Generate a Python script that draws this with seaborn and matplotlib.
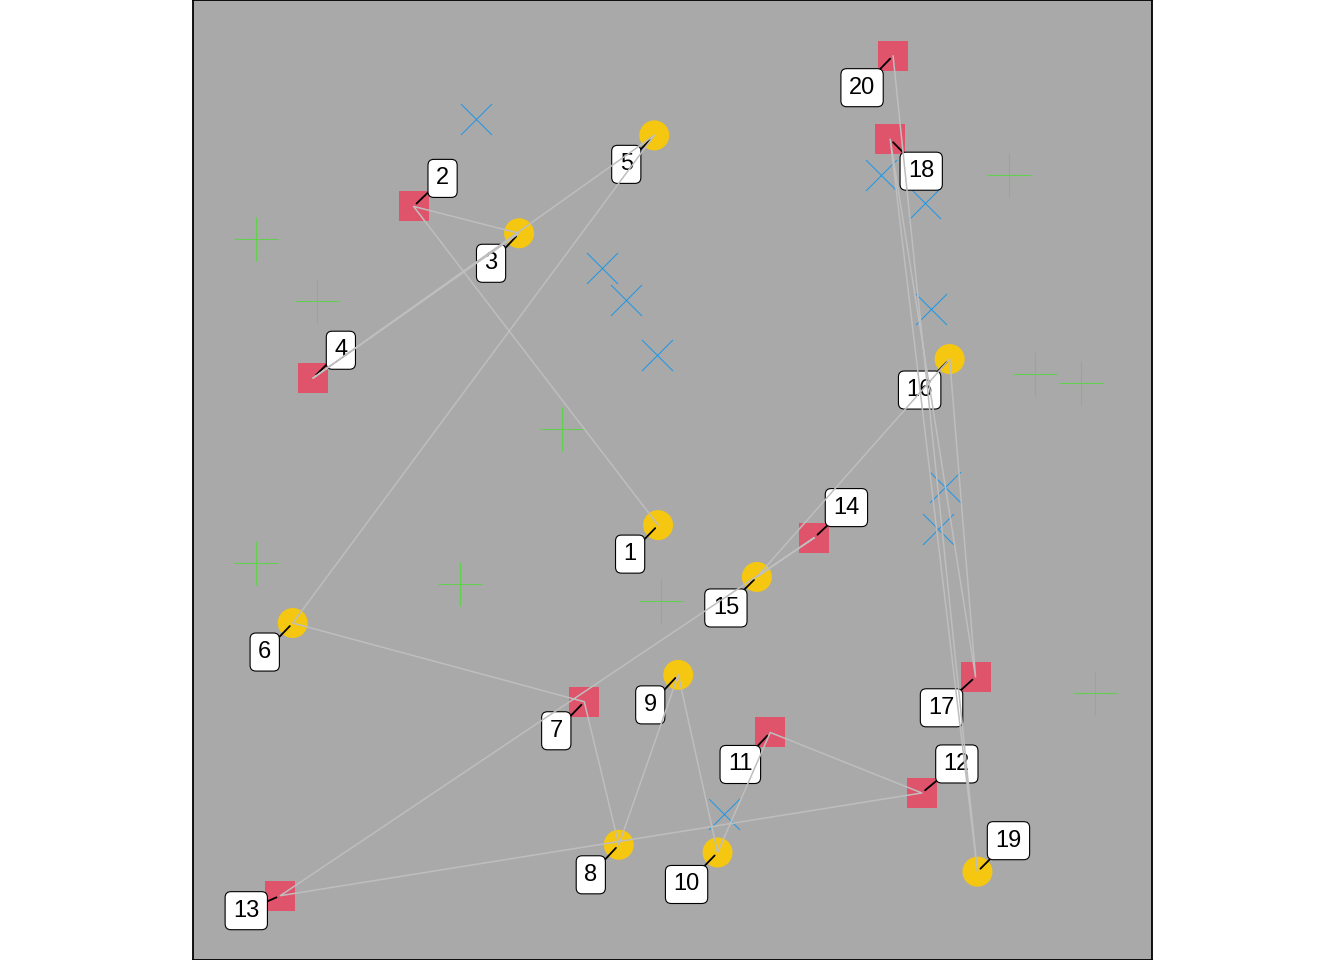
import numpy as np
import pandas as pd
import matplotlib
matplotlib.use("Agg")
import matplotlib.pyplot as plt
import seaborn as sns

# numbered points, visited in this order by the path
point_x = [0.485, 0.230, 0.340, 0.125, 0.481, 0.104, 0.408, 0.444, 0.506, 0.547,
           0.602, 0.760, 0.091, 0.648, 0.588, 0.789, 0.816, 0.727, 0.818, 0.730]
point_y = [0.453, 0.785, 0.757, 0.606, 0.859, 0.351, 0.269, 0.120, 0.297, 0.112,
           0.237, 0.174, 0.067, 0.440, 0.399, 0.626, 0.295, 0.855, 0.092, 0.942]
point_shape = ["circle", "square", "circle", "square", "circle", "circle", "square",
               "circle", "circle", "circle", "square", "square", "square", "square",
               "circle", "circle", "square", "square", "circle", "square"]
point_label = [str(i) for i in range(1, 21)]

# background crosses (blue) and plus signs (green)
cross_x = [0.295, 0.427, 0.451, 0.484, 0.717, 0.763, 0.770, 0.784, 0.777, 0.554]
cross_y = [0.876, 0.721, 0.687, 0.630, 0.818, 0.789, 0.678, 0.493, 0.449, 0.152]
plus_x = [0.066, 0.129, 0.385, 0.851, 0.878, 0.926, 0.066, 0.278, 0.488, 0.941]
plus_y = [0.751, 0.686, 0.553, 0.818, 0.610, 0.601, 0.414, 0.392, 0.374, 0.278]

# where each label box sits relative to its point (pixels)
label_dx = [-28, 29, -28, 28, -28, -28, -28, -28, -28, -31,
            -30, 35, -34, 32, -31, -30, -34, 31, 31, -31]
label_dy = [-29, 28, -30, 28, -29, -29, -29, -30, -30, -32,
            -32, 29, -15, 30, -31, -31, -31, -32, 31, -32]

df = pd.DataFrame({"x": point_x, "y": point_y, "shape": point_shape,
                   "label": point_label})

sns.set_style("white", {"axes.facecolor": "#A9A9A9", "axes.edgecolor": "black"})
plt.rcParams["font.family"] = ["Liberation Sans", "DejaVu Sans"]

fig = plt.figure(figsize=(13.44, 9.6), dpi=100)
ax = fig.add_axes([193 / 1344, 0, 959 / 1344, 1])

ax.scatter(cross_x, cross_y, marker="x", s=497, color="#2297E6", linewidths=0.75, zorder=1)
ax.scatter(plus_x, plus_y, marker="+", s=1004, color="#61D04F", linewidths=0.75, zorder=1)

sns.scatterplot(data=df, x="x", y="y", hue="shape", style="shape",
                markers={"circle": "o", "square": "s"},
                palette={"circle": "#F5C710", "square": "#DF536B"},
                s=467, linewidth=0, legend=False, ax=ax, zorder=2)

for i, row in df.iterrows():
    ax.annotate(row["label"], xy=(row["x"], row["y"]),
                xytext=(label_dx[i], label_dy[i]), textcoords="offset pixels",
                ha="center", va="center", fontsize=17, color="black", zorder=3,
                bbox=dict(boxstyle="round,pad=0.34,rounding_size=0.25",
                          fc="white", ec="black", lw=0.8),
                arrowprops=dict(arrowstyle="-", color="black", lw=1.3,
                                shrinkA=0, shrinkB=3))

sns.lineplot(data=df, x="x", y="y", sort=False, estimator=None,
             color="#BEBEBE", linewidth=1.1, ax=ax, zorder=4)

ax.set_xlim(0, 1)
ax.set_ylim(0, 1)
ax.set_xticks([])
ax.set_yticks([])
ax.set_xlabel("")
ax.set_ylabel("")
for spine in ax.spines.values():
    spine.set_visible(True)
    spine.set_color("black")
    spine.set_linewidth(1.3)

fig.savefig("out.png", dpi=100, facecolor="white")
